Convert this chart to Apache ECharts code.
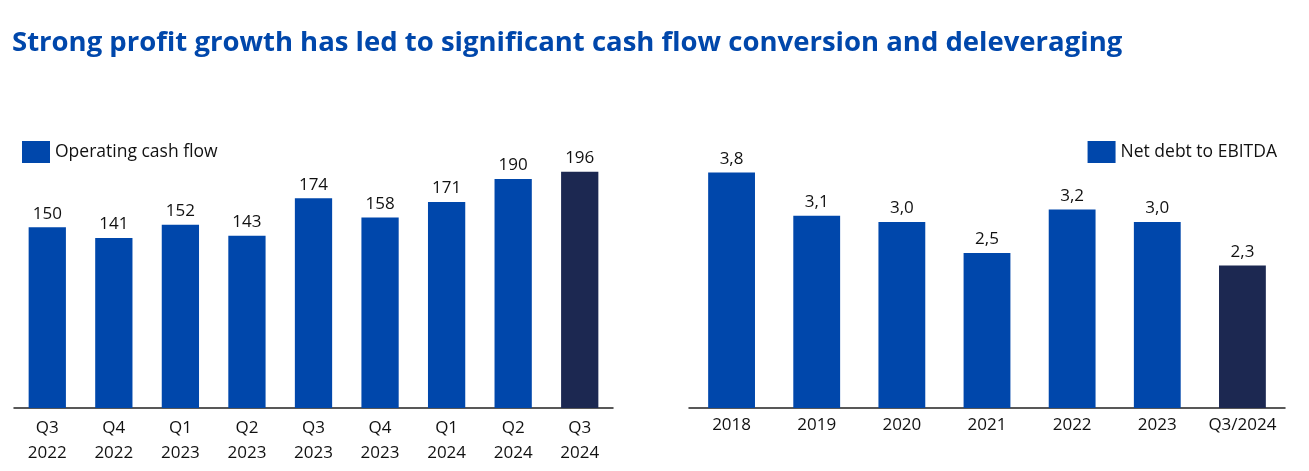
<!DOCTYPE html>
<html><head><meta charset="utf-8">
<script src="https://cdn.jsdelivr.net/npm/echarts@6/dist/echarts.min.js"></script>
<style>html,body{margin:0;padding:0;background:#fff}#c{width:1309px;height:471px}</style>
</head><body><div id="c"></div>
<script>
const cashCategories = ['Q3\n2022','Q4\n2022','Q1\n2023','Q2\n2023','Q3\n2023','Q4\n2023','Q1\n2024','Q2\n2024','Q3\n2024'];
const cashValues = [150,141,152,143,174,158,171,190,196];
const debtCategories = ['2018','2019','2020','2021','2022','2023','Q3/2024'];
const debtValues = [3.8,3.1,3.0,2.5,3.2,3.0,2.3];
const titleText = 'Strong profit growth has led to significant cash flow conversion and deleveraging';

const BLUE = '#0047AB', NAVY = '#1C2851';
const FONT = 'Open Sans';
const FS = 17;
const mk = (arr) => arr.map((v,i)=>({value:v, itemStyle:{color: i===arr.length-1?NAVY:BLUE}}));

const chart = echarts.init(document.getElementById('c'));
chart.setOption({
  animation:false,
  textStyle:{fontFamily:FONT},
  title:{text:titleText,left:7,top:24,textStyle:{color:BLUE,fontSize:27.5,fontWeight:'bold',fontFamily:FONT}},
  legend:[
    {data:['Operating cash flow'],left:17,top:136,itemWidth:28,itemHeight:22,itemGap:6,icon:'rect',textStyle:{fontSize:FS+0.5,color:'#111',fontFamily:FONT}},
    {data:['Net debt to EBITDA'],right:27,top:136,itemWidth:28,itemHeight:22,icon:'rect',textStyle:{fontSize:FS+0.5,color:'#111',fontFamily:FONT}}
  ],
  grid:[
    {left:14,width:599,top:167,height:241},
    {left:689,width:596,top:160,height:248}
  ],
  xAxis:[
    {type:'category',gridIndex:0,data:cashCategories,axisTick:{show:false},axisLine:{lineStyle:{color:'#222',width:1.5}},
     axisLabel:{interval:0,fontSize:FS,color:'#111',lineHeight:25,margin:8,fontFamily:FONT}},
    {type:'category',gridIndex:1,data:debtCategories,axisTick:{show:false},axisLine:{lineStyle:{color:'#222',width:1.5}},
     axisLabel:{interval:0,fontSize:FS,color:'#111',margin:9,fontFamily:FONT}}
  ],
  yAxis:[
    {type:'value',gridIndex:0,min:0,max:200,show:false,splitLine:{show:false}},
    {type:'value',gridIndex:1,min:0,max:4,show:false,splitLine:{show:false}}
  ],
  series:[
    {name:'Operating cash flow',type:'bar',xAxisIndex:0,yAxisIndex:0,data:mk(cashValues),barWidth:'56%',itemStyle:{color:BLUE},
     label:{show:true,position:'top',distance:5,fontSize:FS,color:'#111',fontFamily:FONT}},
    {name:'Net debt to EBITDA',type:'bar',xAxisIndex:1,yAxisIndex:1,data:mk(debtValues),barWidth:'55%',itemStyle:{color:BLUE},
     label:{show:true,position:'top',distance:5,fontSize:FS,color:'#111',fontFamily:FONT,formatter:p=>p.value.toFixed(1).replace('.',',')}}
  ]
});
</script></body></html>
